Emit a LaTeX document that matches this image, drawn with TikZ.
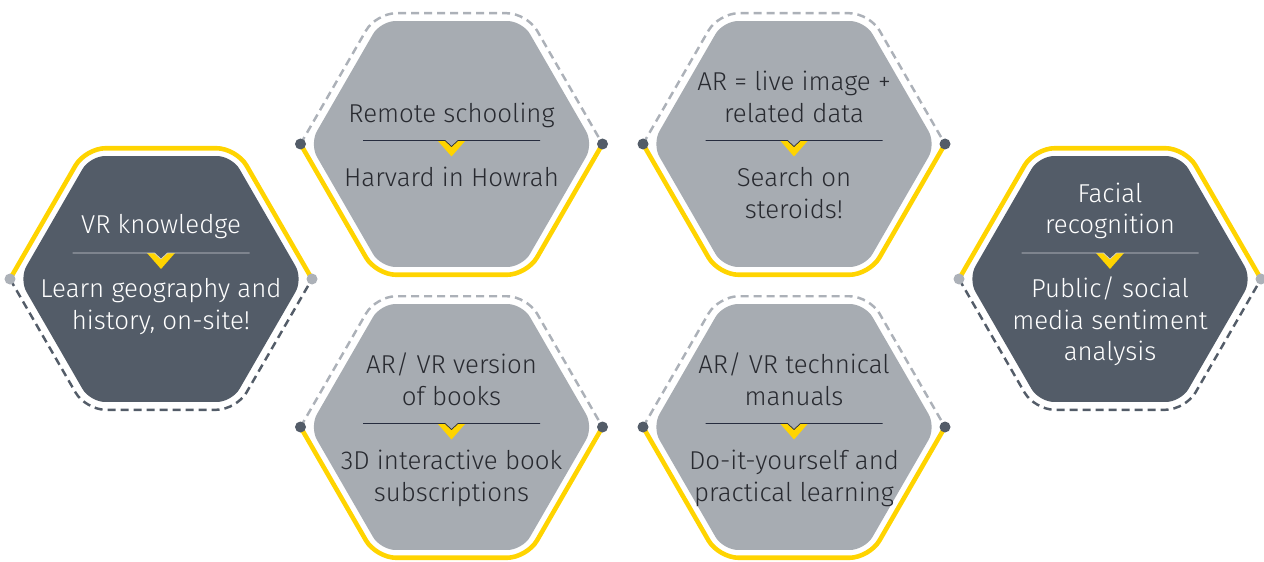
\documentclass[tikz,border=0pt]{standalone}
\usepackage{fontspec}
\setmainfont{Fira Sans}[UprightFont=* Light]
\definecolor{eyyellow}{RGB}{255,212,0}
\definecolor{darkfill}{RGB}{83,92,104}
\definecolor{grayfill}{RGB}{167,172,178}
\definecolor{lightgray}{RGB}{172,177,184}
\definecolor{inkdark}{RGB}{40,42,48}
\definecolor{ruledark}{RGB}{38,44,62}
\definecolor{rulelight}{RGB}{205,208,212}

\begin{document}
\begin{tikzpicture}
\tikzset{hexfill/.style={rounded corners=0.3cm},
  yellowline/.style={draw=eyyellow, line width=2.6pt, rounded corners=0.4cm},
  dashline/.style={line width=1.4pt, dash pattern=on 0.16cm off 0.1cm, rounded corners=0.4cm},
  hextext/.style={align=center, inner sep=0pt, font=\fontsize{14.7}{18}\selectfont}}
\useasboundingbox (0,0) rectangle (25.28,11.22);
% left, dark
\begin{scope}[shift={(3.22,5.64)}]
\fill[darkfill, hexfill] (0:2.84) -- (60:2.84) -- (120:2.84) -- (180:2.84) -- (240:2.84) -- (300:2.84) -- cycle;
\draw[yellowline] (180:3.02) -- (120:3.02) -- (60:3.02) -- (0:3.02);
\draw[dashline, draw=darkfill] (180:3.02) -- (240:3.02) -- (300:3.02) -- (0:3.02);
\fill[lightgray] (180:3.02) circle (0.11) (0:3.02) circle (0.11);
\fill[eyyellow] (-0.28,0.52) -- (-0.13,0.52) -- (0,0.40) -- (0.13,0.52) -- (0.28,0.52) -- (0,0.2) -- cycle;
\draw[rulelight] (-1.77,0.52) -- (-0.13,0.52) -- (0,0.40) -- (0.13,0.52) -- (1.77,0.52);
\node[hextext, white, anchor=south] (vr) at (0,0.71) {VR knowledge\strut};
\node[hextext, white, anchor=north] (vrtxt) at (0,0.08) {\strut Learn geography and\\history, on-site!};
\end{scope}
% top middle, gray
\begin{scope}[shift={(9.03,8.34)}]
\fill[grayfill, hexfill] (0:2.84) -- (60:2.84) -- (120:2.84) -- (180:2.84) -- (240:2.84) -- (300:2.84) -- cycle;
\draw[dashline, draw=lightgray] (180:3.02) -- (120:3.02) -- (60:3.02) -- (0:3.02);
\draw[yellowline] (180:3.02) -- (240:3.02) -- (300:3.02) -- (0:3.02);
\fill[darkfill] (180:3.02) circle (0.11) (0:3.02) circle (0.11);
\fill[eyyellow] (-0.28,0.07) -- (-0.13,0.07) -- (0,-0.05) -- (0.13,0.07) -- (0.28,0.07) -- (0,-0.25) -- cycle;
\draw[ruledark] (-1.77,0.07) -- (-0.13,0.07) -- (0,-0.05) -- (0.13,0.07) -- (1.77,0.07);
\node[hextext, inkdark, anchor=south] (remote) at (0,0.24) {Remote schooling\strut};
\node[hextext, inkdark, anchor=north] (remotetxt) at (0,-0.41) {\strut Harvard in Howrah};
\end{scope}
% top right, gray
\begin{scope}[shift={(15.88,8.34)}]
\fill[grayfill, hexfill] (0:2.84) -- (60:2.84) -- (120:2.84) -- (180:2.84) -- (240:2.84) -- (300:2.84) -- cycle;
\draw[dashline, draw=lightgray] (180:3.02) -- (120:3.02) -- (60:3.02) -- (0:3.02);
\draw[yellowline] (180:3.02) -- (240:3.02) -- (300:3.02) -- (0:3.02);
\fill[darkfill] (180:3.02) circle (0.11) (0:3.02) circle (0.11);
\fill[eyyellow] (-0.28,0.07) -- (-0.13,0.07) -- (0,-0.05) -- (0.13,0.07) -- (0.28,0.07) -- (0,-0.25) -- cycle;
\draw[ruledark] (-1.77,0.07) -- (-0.13,0.07) -- (0,-0.05) -- (0.13,0.07) -- (1.77,0.07);
\node[hextext, inkdark, anchor=south] (ar) at (0,0.24) {AR = live image +\\related data\strut};
\node[hextext, inkdark, anchor=north] (artxt) at (0,-0.41) {\strut Search on\\steroids!};
\end{scope}
% bottom middle, gray
\begin{scope}[shift={(9.03,2.68)}]
\fill[grayfill, hexfill] (0:2.84) -- (60:2.84) -- (120:2.84) -- (180:2.84) -- (240:2.84) -- (300:2.84) -- cycle;
\draw[dashline, draw=lightgray] (180:3.02) -- (120:3.02) -- (60:3.02) -- (0:3.02);
\draw[yellowline] (180:3.02) -- (240:3.02) -- (300:3.02) -- (0:3.02);
\fill[darkfill] (180:3.02) circle (0.11) (0:3.02) circle (0.11);
\fill[eyyellow] (-0.28,0.07) -- (-0.13,0.07) -- (0,-0.05) -- (0.13,0.07) -- (0.28,0.07) -- (0,-0.25) -- cycle;
\draw[ruledark] (-1.77,0.07) -- (-0.13,0.07) -- (0,-0.05) -- (0.13,0.07) -- (1.77,0.07);
\node[hextext, inkdark, anchor=south] (books) at (0,0.24) {AR/ VR version\\of books\strut};
\node[hextext, inkdark, anchor=north] (bookstxt) at (0,-0.41) {\strut 3D interactive book\\subscriptions};
\end{scope}
% bottom right, gray
\begin{scope}[shift={(15.88,2.68)}]
\fill[grayfill, hexfill] (0:2.84) -- (60:2.84) -- (120:2.84) -- (180:2.84) -- (240:2.84) -- (300:2.84) -- cycle;
\draw[dashline, draw=lightgray] (180:3.02) -- (120:3.02) -- (60:3.02) -- (0:3.02);
\draw[yellowline] (180:3.02) -- (240:3.02) -- (300:3.02) -- (0:3.02);
\fill[darkfill] (180:3.02) circle (0.11) (0:3.02) circle (0.11);
\fill[eyyellow] (-0.28,0.07) -- (-0.13,0.07) -- (0,-0.05) -- (0.13,0.07) -- (0.28,0.07) -- (0,-0.25) -- cycle;
\draw[ruledark] (-1.77,0.07) -- (-0.13,0.07) -- (0,-0.05) -- (0.13,0.07) -- (1.77,0.07);
\node[hextext, inkdark, anchor=south] (manuals) at (0,0.24) {AR/ VR technical\\manuals\strut};
\node[hextext, inkdark, anchor=north] (manualstxt) at (0,-0.41) {\strut Do-it-yourself and\\practical learning};
\end{scope}
% right, dark
\begin{scope}[shift={(22.2,5.64)}]
\fill[darkfill, hexfill] (0:2.84) -- (60:2.84) -- (120:2.84) -- (180:2.84) -- (240:2.84) -- (300:2.84) -- cycle;
\draw[yellowline] (180:3.02) -- (120:3.02) -- (60:3.02) -- (0:3.02);
\draw[dashline, draw=darkfill] (180:3.02) -- (240:3.02) -- (300:3.02) -- (0:3.02);
\fill[lightgray] (180:3.02) circle (0.11) (0:3.02) circle (0.11);
\fill[eyyellow] (-0.28,0.52) -- (-0.13,0.52) -- (0,0.40) -- (0.13,0.52) -- (0.28,0.52) -- (0,0.2) -- cycle;
\draw[rulelight] (-1.77,0.52) -- (-0.13,0.52) -- (0,0.40) -- (0.13,0.52) -- (1.77,0.52);
\node[hextext, white, anchor=south] (face) at (0,0.71) {Facial\\recognition\strut};
\node[hextext, white, anchor=north] (facetxt) at (0,0.08) {\strut Public/ social\\media sentiment\\analysis};
\end{scope}
\end{tikzpicture}
\end{document}
